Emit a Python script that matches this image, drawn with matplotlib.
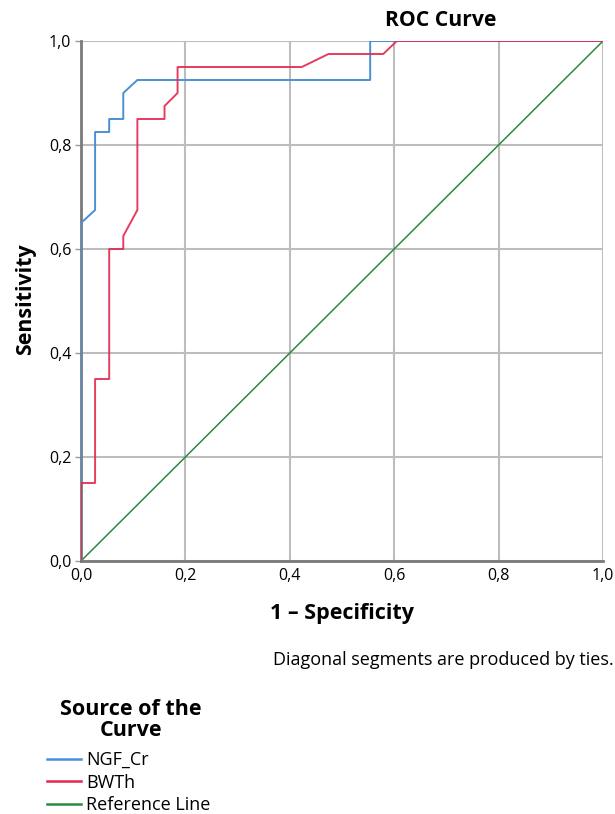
import matplotlib
matplotlib.use("Agg")
import matplotlib.pyplot as plt

# ---- data ----
ngf_fpr = [0, 0, 0.027, 0.027, 0.054, 0.054, 0.081, 0.081, 0.108, 0.554, 0.554, 1.0]
ngf_tpr = [0, 0.65, 0.675, 0.825, 0.825, 0.85, 0.85, 0.90, 0.925, 0.925, 1.0, 1.0]

bwth_fpr = [0, 0, 0.027, 0.027, 0.054, 0.054, 0.081, 0.081, 0.108, 0.108, 0.160,
            0.160, 0.185, 0.185, 0.423, 0.474, 0.579, 0.605, 1.0]
bwth_tpr = [0, 0.15, 0.15, 0.35, 0.35, 0.60, 0.60, 0.625, 0.675, 0.85, 0.85,
            0.875, 0.90, 0.95, 0.95, 0.975, 0.975, 1.0, 1.0]

ref_x = [0, 1]
ref_y = [0, 1]

tick_vals = [0, 0.2, 0.4, 0.6, 0.8, 1.0]
tick_labels = ["0,0", "0,2", "0,4", "0,6", "0,8", "1,0"]

series_names = ["NGF_Cr", "BWTh", "Reference Line"]
colors = ["#4a8fd6", "#e3284f", "#2a8a3e"]

plt.rcParams['font.family'] = ['Open Sans', 'DejaVu Sans']

W, H = 615, 814
fig = plt.figure(figsize=(W / 100, H / 100), dpi=100)
ax = fig.add_axes([81 / W, 1 - 561 / H, (603 - 81) / W, (561 - 41) / H])

l1, = ax.plot(ngf_fpr, ngf_tpr, color=colors[0], lw=1.4, zorder=3)
l2, = ax.plot(bwth_fpr, bwth_tpr, color=colors[1], lw=1.4, zorder=4, alpha=0.9)
l3, = ax.plot(ref_x, ref_y, color=colors[2], lw=1.1, zorder=2)

ax.set_xlim(0, 1)
ax.set_ylim(0, 1)
ax.set_xticks(tick_vals)
ax.set_xticklabels(tick_labels)
ax.set_yticks(tick_vals)
ax.set_yticklabels(tick_labels)
ax.grid(True, color="#bdbdbd", lw=1.5)
ax.set_axisbelow(True)
for s in ["top", "right"]:
    ax.spines[s].set_visible(False)
for s in ["left", "bottom"]:
    ax.spines[s].set_color("#7a7a7a")
    ax.spines[s].set_linewidth(2)
ax.tick_params(axis="both", colors="#9a9a9a", labelcolor="black", labelsize=11.5, length=4, width=1)
ax.tick_params(axis="x", length=0, pad=5)
ax.tick_params(axis="y", pad=3)

fig.text(441 / W, 1 - 21 / H, "ROC Curve", ha="center", va="center", fontsize=15.2, fontweight="bold")
fig.text(342 / W, 1 - 613 / H, "1 – Specificity", ha="center", va="center", fontsize=15.5, fontweight="bold")
fig.text(26 / W, 1 - 299 / H, "Sensitivity", ha="center", va="center", rotation=90, fontsize=15.4, fontweight="bold")
fig.text(614 / W, 1 - 660 / H, "Diagonal segments are produced by ties.", ha="right", va="center", fontsize=13)

# legend title
fig.text(131 / W, 1 - 720 / H, "Source of the\nCurve", ha="center", va="center",
         multialignment="center", fontsize=15.5, fontweight="bold", linespacing=1.05)

leg = fig.legend([l1, l2, l3], series_names, loc="upper left", bbox_to_anchor=(47 / W, 1 - 751 / H),
                 frameon=False, fontsize=13,
                 handlelength=1.9, handletextpad=0.28, labelspacing=0.26, borderpad=0, borderaxespad=0)
for h in leg.get_lines():
    h.set_alpha(1)
    h.set_linewidth(1.8)

fig.savefig("out.png", dpi=100)
